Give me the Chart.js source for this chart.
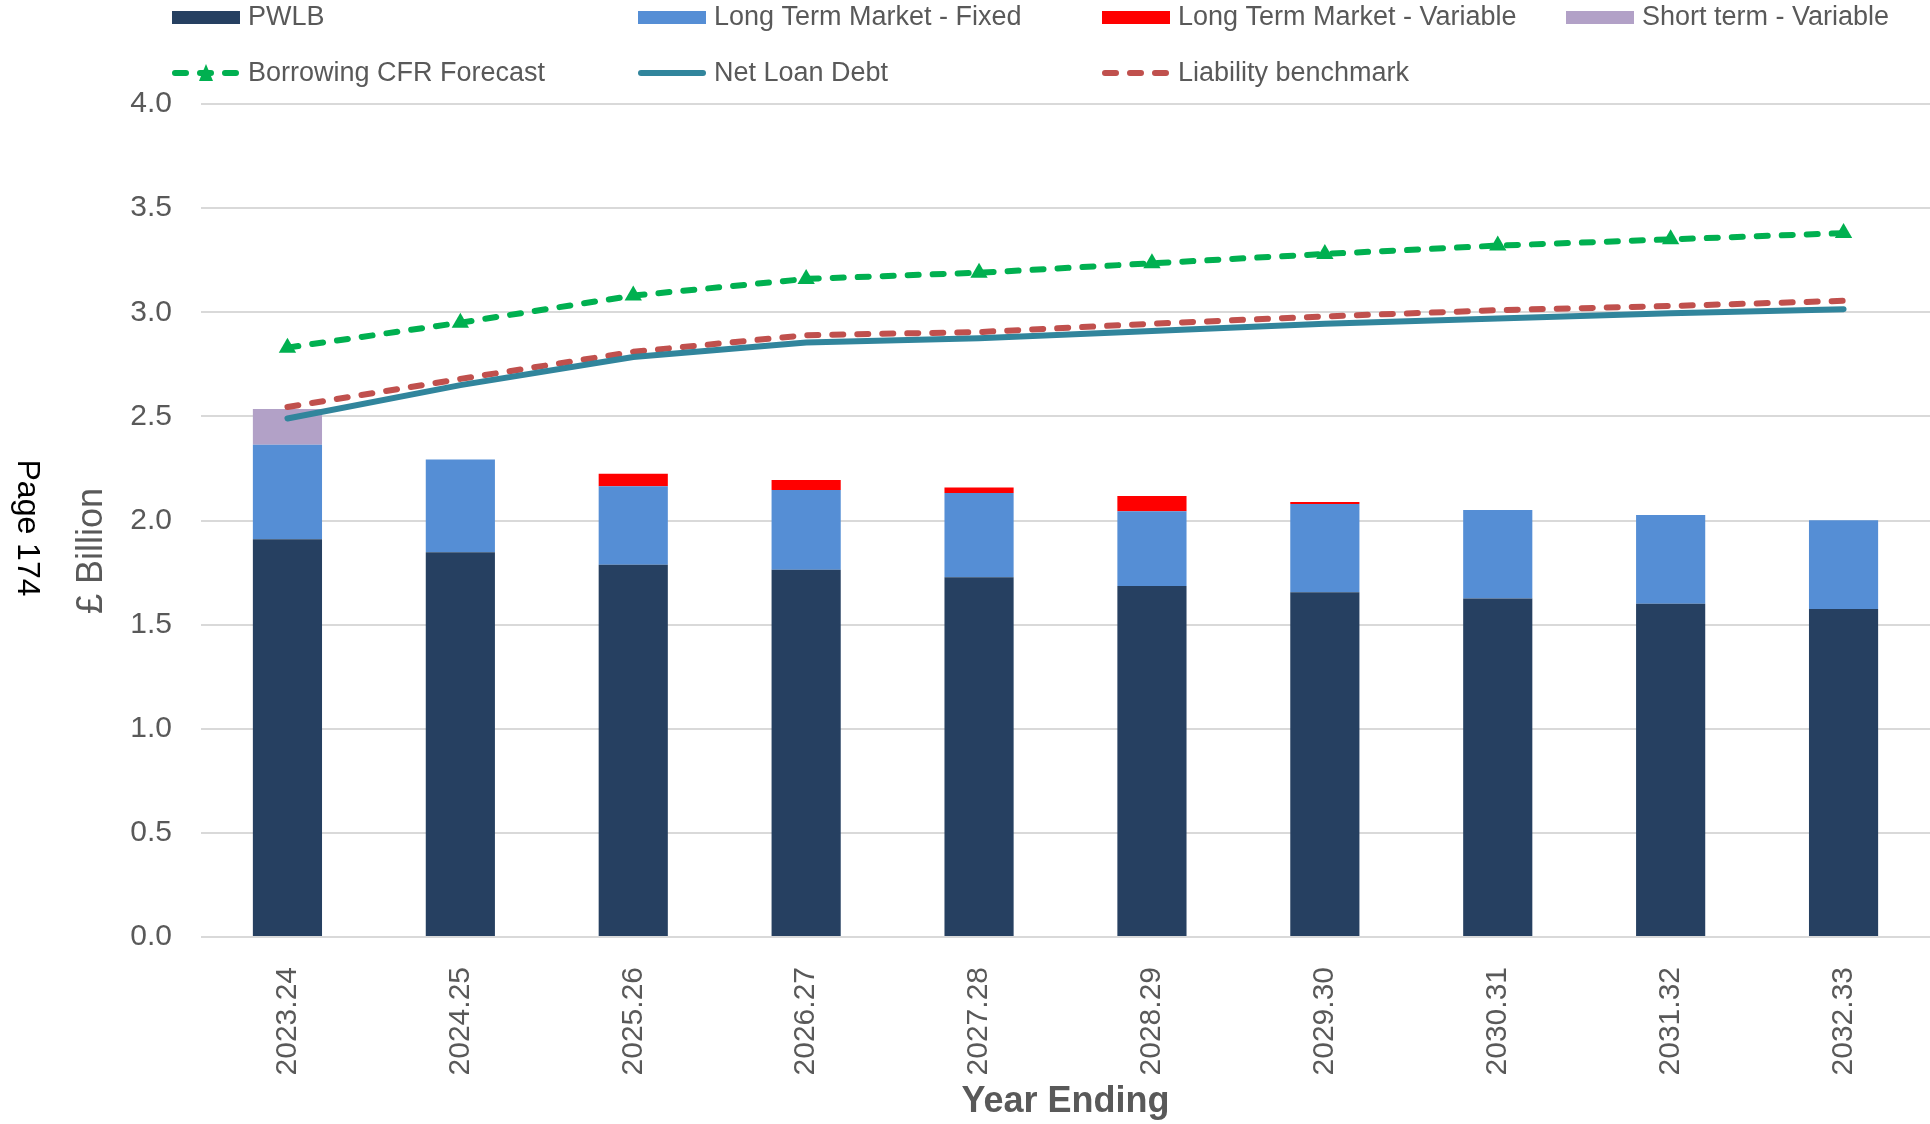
<!DOCTYPE html>
<html>
<head>
<meta charset="utf-8">
<script src="https://cdn.jsdelivr.net/npm/chart.js@4.4.1/dist/chart.umd.min.js"></script>
<style>
  html, body { margin: 0; padding: 0; background: #fff; }
  #wrap { width: 1930px; height: 1124px; position: relative; }
</style>
</head>
<body>
<div id="wrap"><canvas id="chart" width="1930" height="1124"></canvas></div>
<script>
// year ending labels
var years = ['2023.24', '2024.25', '2025.26', '2026.27', '2027.28', '2028.29', '2029.30', '2030.31', '2031.32', '2032.33'];

// stacked bars, £ billion
var pwlb        = [1.910, 1.848, 1.788, 1.763, 1.728, 1.686, 1.656, 1.625, 1.600, 1.575];
var ltmFixed    = [0.454, 0.445, 0.377, 0.383, 0.404, 0.358, 0.423, 0.426, 0.427, 0.426];
var ltmVariable = [0, 0, 0.060, 0.049, 0.026, 0.074, 0.010, 0, 0, 0];
var shortTerm   = [0.171, 0, 0, 0, 0, 0, 0, 0, 0, 0];

// lines
var cfrForecast = [2.83, 2.95, 3.08, 3.16, 3.19, 3.235, 3.28, 3.32, 3.35, 3.38];
var netLoanDebt = [2.49, 2.65, 2.785, 2.855, 2.875, 2.91, 2.945, 2.97, 2.995, 3.015];
var liability   = [2.545, 2.68, 2.81, 2.89, 2.905, 2.945, 2.98, 3.01, 3.03, 3.055];

var yTicks = [0, 0.5, 1, 1.5, 2, 2.5, 3, 3.5, 4];

var FONT = "'Liberation Sans', Arial, sans-serif";
var GREY = '#595959';

// legend laid out as a grid, plus the rotated side texts
var extrasPlugin = {
  id: 'extras',
  afterDraw: function (chart) {
    var ctx = chart.ctx;
    var cols = [172, 638, 1102, 1566];
    var rows = [17, 73];
    var slots = [[0, 0], [1, 0], [2, 0], [3, 0], [0, 1], [1, 1], [2, 1]];
    var sw = 68;

    ctx.save();
    chart.data.datasets.forEach(function (ds, i) {
      var x = cols[slots[i][0]], y = rows[slots[i][1]];
      if (ds.type === 'line') {
        ctx.save();
        ctx.strokeStyle = ds.borderColor;
        ctx.lineWidth = ds.borderWidth;
        ctx.lineCap = 'round';
        ctx.setLineDash(ds.borderDash || []);
        ctx.beginPath();
        ctx.moveTo(x + 3, y);
        ctx.lineTo(x + sw - 3, y);
        ctx.stroke();
        ctx.restore();
        if (ds.pointStyle === 'triangle') {
          ctx.fillStyle = ds.borderColor;
          ctx.beginPath();
          ctx.moveTo(x + sw / 2, y - 9);
          ctx.lineTo(x + sw / 2 + 7, y + 8);
          ctx.lineTo(x + sw / 2 - 7, y + 8);
          ctx.closePath();
          ctx.fill();
        }
      } else {
        ctx.fillStyle = ds.backgroundColor;
        ctx.fillRect(x, y - 6, sw, 13);
      }
      ctx.fillStyle = GREY;
      ctx.font = '27px ' + FONT;
      ctx.textBaseline = 'middle';
      ctx.textAlign = 'left';
      ctx.fillText(ds.label, x + 76, y + 1);
    });

    // y axis title
    ctx.save();
    ctx.translate(92, 551);
    ctx.rotate(-Math.PI / 2);
    ctx.font = '36px ' + FONT;
    ctx.fillStyle = GREY;
    ctx.textAlign = 'center';
    ctx.textBaseline = 'middle';
    ctx.fillText('£ Billion', 0, 0);
    ctx.restore();

    // page marker, reads downward
    ctx.save();
    ctx.translate(27, 528);
    ctx.rotate(Math.PI / 2);
    ctx.font = '32px ' + FONT;
    ctx.fillStyle = '#000';
    ctx.textAlign = 'center';
    ctx.textBaseline = 'middle';
    ctx.fillText('Page 174', 0, 0);
    ctx.restore();

    ctx.restore();
  }
};

function barSet(label, data, color) {
  return {
    type: 'bar', label: label, data: data, backgroundColor: color,
    stack: 'debt', order: 1, barPercentage: 0.4, categoryPercentage: 1.0
  };
}

var chart = new Chart(document.getElementById('chart'), {
  data: {
    labels: years,
    datasets: [
      barSet('PWLB', pwlb, '#264061'),
      barSet('Long Term Market - Fixed', ltmFixed, '#558ED5'),
      barSet('Long Term Market - Variable', ltmVariable, '#FF0000'),
      barSet('Short term - Variable', shortTerm, '#B2A1C7'),
      {
        type: 'line', label: 'Borrowing CFR Forecast', data: cfrForecast,
        borderColor: '#00B050', backgroundColor: '#00B050', borderWidth: 6,
        borderDash: [11, 14], borderCapStyle: 'round',
        pointStyle: 'triangle', pointRadius: 10, pointBorderWidth: 0,
        pointBackgroundColor: '#00B050', stack: 'cfr', order: 0, tension: 0
      },
      {
        type: 'line', label: 'Net Loan Debt', data: netLoanDebt,
        borderColor: '#31859C', borderWidth: 6, borderCapStyle: 'round',
        pointRadius: 0, stack: 'nld', order: 0, tension: 0
      },
      {
        type: 'line', label: 'Liability benchmark', data: liability,
        borderColor: '#C0504D', borderWidth: 6,
        borderDash: [11, 14], borderCapStyle: 'round',
        pointRadius: 0, stack: 'lb', order: 0, tension: 0
      }
    ]
  },
  options: {
    responsive: false,
    devicePixelRatio: 1,
    animation: false,
    layout: { autoPadding: false, padding: { top: 104, right: 0, bottom: 0, left: 0 } },
    plugins: {
      legend: { display: false },
      tooltip: { enabled: false }
    },
    scales: {
      x: {
        stacked: true,
        grid: { display: false, drawTicks: false },
        border: { display: false },
        ticks: {
          color: GREY, font: { family: FONT, size: 30 },
          minRotation: 90, maxRotation: 90, padding: 30
        },
        title: {
          display: true, text: 'Year Ending', color: GREY,
          font: { family: FONT, size: 36, weight: 'bold' },
          padding: { top: 0, bottom: 0 }
        },
        afterFit: function (scale) {
          scale.height = 187;
          scale.paddingLeft = 0;
          scale.paddingRight = 0;
        }
      },
      y: {
        stacked: true,
        min: 0, max: 4,
        afterBuildTicks: function (scale) {
          scale.ticks = yTicks.map(function (v) { return { value: v }; });
        },
        grid: { color: '#D9D9D9', lineWidth: 2, drawTicks: false },
        border: { display: false },
        ticks: {
          color: GREY, font: { family: FONT, size: 30 }, padding: 29,
          callback: function (v) { return Number(v).toFixed(1); }
        },
        afterFit: function (scale) {
          scale.width = 201;
        }
      }
    }
  },
  plugins: [extrasPlugin]
});
</script>
</body>
</html>
